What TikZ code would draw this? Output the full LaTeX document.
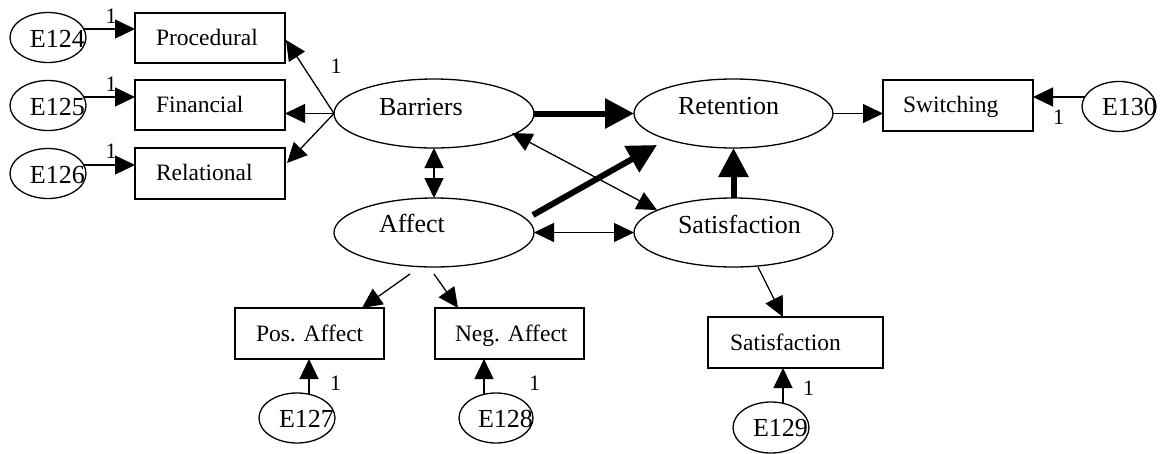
\documentclass[tikz,border=0pt]{standalone}
\usepackage{fontspec}
\setmainfont{Liberation Serif}
\usetikzlibrary{arrows.meta,shapes.geometric,calc}

\begin{document}
\begin{tikzpicture}[x=1pt,y=-1pt,
  every node/.style={inner sep=0pt,outer sep=0pt},
  latent/.style={ellipse,draw,line width=1.3pt,minimum width=200pt,minimum height=69pt},
  errv/.style={ellipse,draw,line width=1.3pt,minimum width=76pt,minimum height=50pt},
  obs/.style={rectangle,draw,line width=1.4pt,minimum width=150pt,minimum height=51pt},
  bigtxt/.style={anchor=base west,font=\fontsize{26}{30}\selectfont},
  boxtxt/.style={anchor=base west,font=\fontsize{23.5}{28}\selectfont},
  one/.style={font=\fontsize{22}{26}\selectfont},
  path/.style={line width=1.3pt,-{Triangle[length=20pt,width=19pt]}},
  cov/.style={line width=1.3pt,{Triangle[length=20pt,width=19pt]}-{Triangle[length=20pt,width=19pt]}},
  strong/.style={line width=6pt,-{Triangle[length=29pt,width=29pt]}}]

\useasboundingbox (0,0) rectangle (1163,453);

% error terms of the indicators
\node[errv] (E124) at (48,37.5) {};
\node[errv] (E125) at (48,105.5) {};
\node[errv] (E126) at (48,173.5) {};
\node[errv,minimum width=74pt] (E130) at (1119,106.5) {};
\node[errv] (E127) at (297,418) {};
\node[errv,minimum width=74pt] (E128) at (496,418) {};
\node[errv,minimum height=51pt] (E129) at (771,427.5) {};

% observed indicators
\node[obs,minimum height=50pt] (Proc) at (210,38) {};
\node[obs,minimum height=50pt] (Fin) at (210,105) {};
\node[obs] (Rel) at (210,173.5) {};
\node[obs] (Sw) at (958,105.5) {};
\node[obs,minimum width=149pt] (PosA) at (309.5,333.5) {};
\node[obs,minimum width=149pt] (NegA) at (509.5,333.5) {};
\node[obs,minimum width=175pt] (SatB) at (795.5,342.5) {};

% latent constructs
\node[latent] (Bar) at (434,113.5) {};
\node[latent] (Aff) at (434,232.5) {};
\node[latent,minimum width=199pt] (Ret) at (733.5,113.5) {};
\node[latent,minimum width=199pt] (Sat) at (733.5,232.5) {};

% texts
\node[bigtxt] (tE124) at ($(E124.west)+(20,9.5)$) {E124};
\node[bigtxt] (tE125) at ($(E125.west)+(20,9.5)$) {E125};
\node[bigtxt] (tE126) at ($(E126.west)+(20,10)$) {E126};
\node[bigtxt] (tE130) at ($(E130.west)+(20,8.5)$) {E130};
\node[bigtxt] (tE127) at ($(E127.west)+(20,9.7)$) {E127};
\node[bigtxt] (tE128) at ($(E128.west)+(19,9.7)$) {E128};
\node[bigtxt] (tE129) at ($(E129.west)+(20,8.5)$) {E129};

\node[boxtxt] (tProc) at ($(Proc.west)+(21,7)$) {Procedural};
\node[boxtxt] (tFin) at ($(Fin.west)+(21,7.5)$) {Financial};
\node[boxtxt] (tRel) at ($(Rel.west)+(21,6.5)$) {Relational};
\node[boxtxt] (tSw) at ($(Sw.west)+(20,7)$) {Switching};
\node[boxtxt] (tPosA) at ($(PosA.west)+(21,7.5)$) {Pos. Affect};
\node[boxtxt] (tNegA) at ($(NegA.west)+(20,7.5)$) {Neg. Affect};
\node[boxtxt] (tSatB) at ($(SatB.west)+(22,7.5)$) {Satisfaction};

\node[bigtxt] (tBar) at ($(Bar.west)+(45,1.5)$) {Barriers};
\node[bigtxt] (tAff) at ($(Aff.west)+(45,0)$) {Affect};
\node[bigtxt] (tRet) at ($(Ret.west)+(44,1)$) {Retention};
\node[bigtxt] (tSat) at ($(Sat.west)+(44,1)$) {Satisfaction};

% helper points for the error paths
\coordinate (s127) at ($(E127.north)+(12,1.3)$);
\coordinate (s128) at ($(E128.north)+(-12,1.3)$);
\coordinate (s129) at ($(E129.north)+(12,1.3)$);

% measurement paths
\draw[path] ($(E124.east)+(-2.5,-8.5)$) -- ($(Proc.west)+(0,-9)$);
\draw[path] ($(E125.east)+(-2.5,-8.5)$) -- ($(Fin.west)+(0,-8)$);
\draw[path] ($(E126.east)+(-2.5,-8.5)$) -- ($(Rel.west)+(0,-8.5)$);
\draw[path] ($(E130.west)+(3,-9.5)$) -- ($(Sw.east)+(0,-8.5)$);
\draw[path] (s127) -- (s127 |- PosA.south);
\draw[path] (s128) -- (s128 |- NegA.south);
\draw[path] (s129) -- (s129 |- SatB.south);

\draw[path] (Bar.west) -- ($(Proc.east)+(1,2)$);
\draw[path] (Bar.west) -- (Bar.west -| Fin.east);
\draw[path] (Bar.west) -- ($(Rel.east)+(2,-10.5)$);
\draw[path] (Ret.east) -- (Ret.east -| Sw.west);
\draw[path] ($(Aff.south)+(-24,7)$) -- ($(PosA.north east)+(-22,0)$);
\draw[path] ($(Aff.south)+(0,7)$) -- ($(NegA.north west)+(23,0)$);
\draw[path] ($(Sat.south)+(24.5,0)$) -- ($(SatB.north)+(-12.5,0)$);

% structural paths and covariances
\draw[cov] (Bar.south) -- (Aff.north);
\draw[cov] ($(Bar.center)+(78,19.5)$) -- ($(Sat.center)+(-76.5,-22.5)$);
\draw[cov] (Aff.east) -- (Sat.west);
\draw[strong] (Bar.east) -- (Ret.west);
\draw[strong] (Sat.north) -- (Ret.south);
\draw[strong] ($(Aff.east)+(-1,-17.5)$) -- ($(Ret.center)+(-76.5,31.5)$);

% fixed loadings
\node[one] (w124) at (111,16) {1};
\node[one] (w125) at (111,84.5) {1};
\node[one] (w126) at (111,151.5) {1};
\node[one] (wBar) at (336,66) {1};
\node[one] (w130) at (1058.5,117) {1};
\node[one] (w127) at (335.5,383.5) {1};
\node[one] (w128) at (534.5,383.5) {1};
\node[one] (w129) at (808.5,388.5) {1};
\end{tikzpicture}
\end{document}
